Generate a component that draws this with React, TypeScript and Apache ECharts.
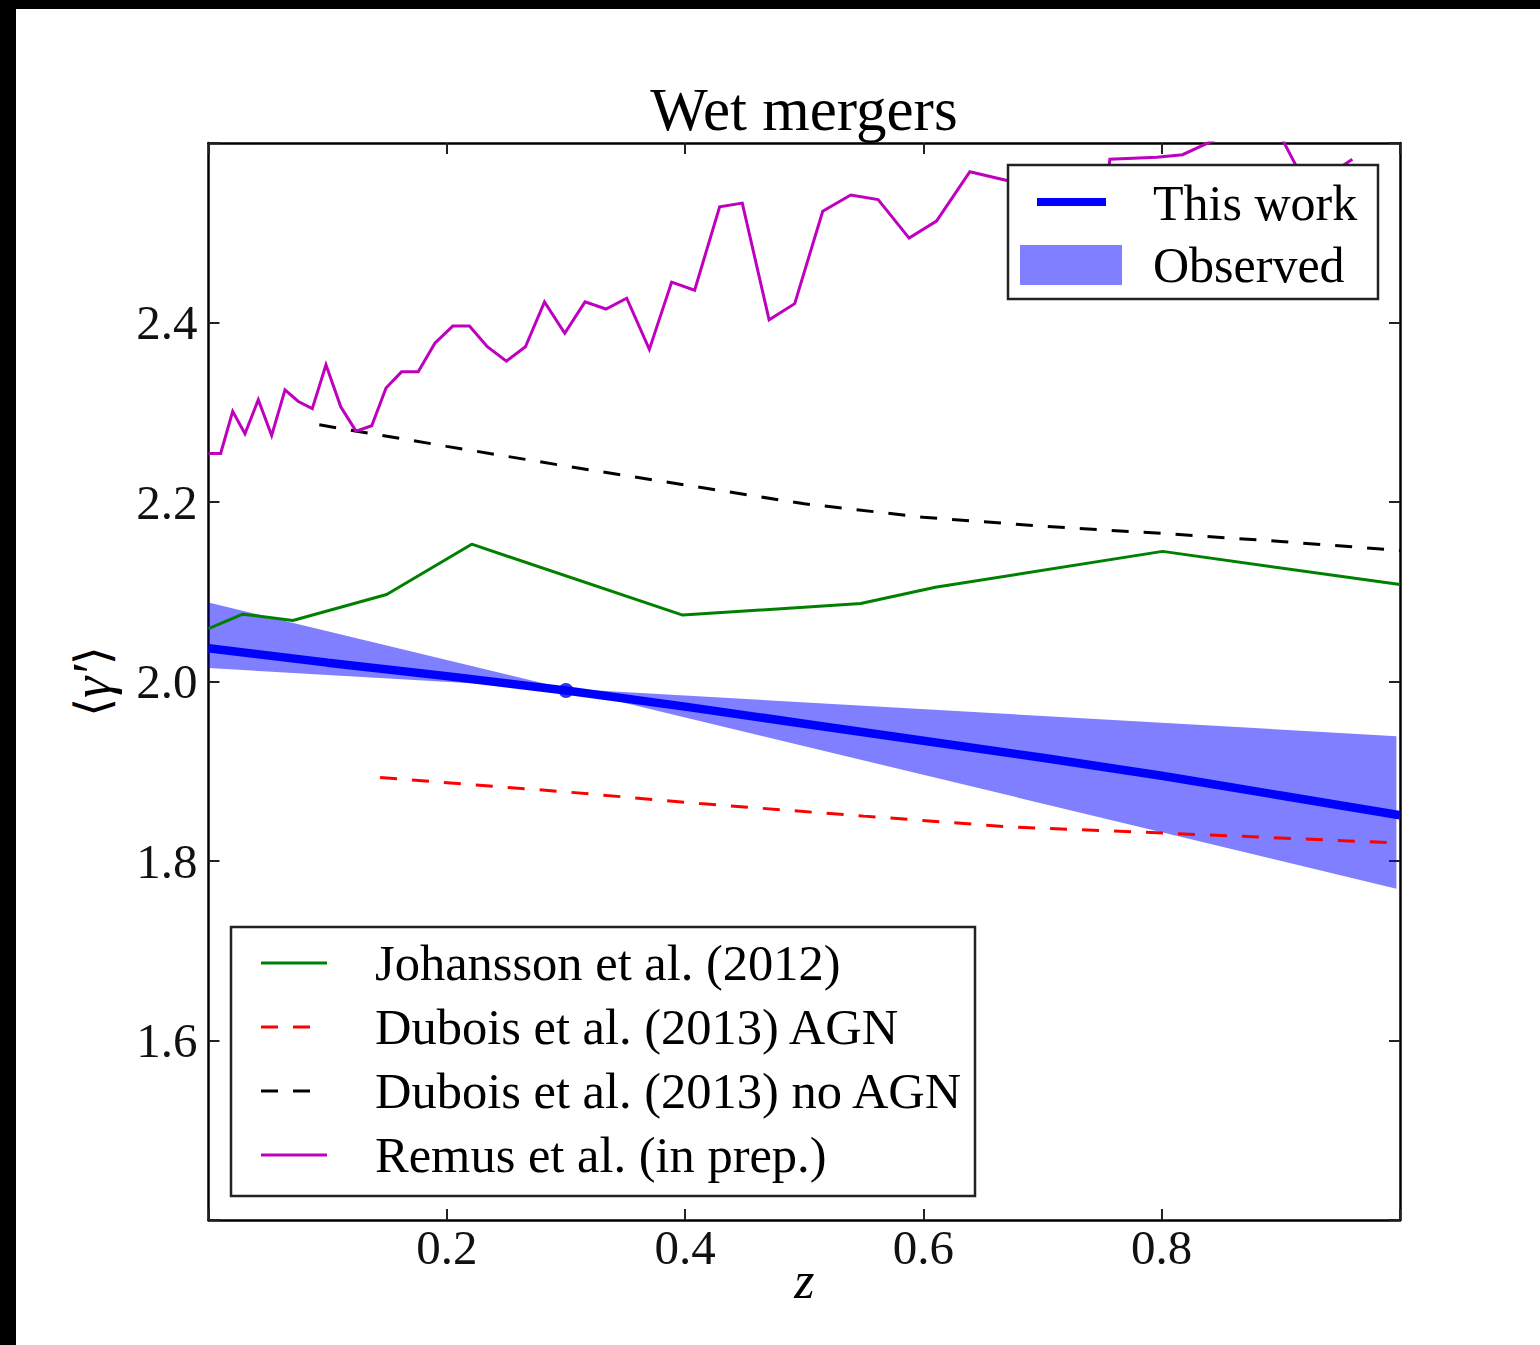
import React, { useEffect, useRef } from "react";
import * as echarts from "echarts";

// Redshift / mean slope readings per study
const johanssonZ = [0.0, 0.0287, 0.0707, 0.1495, 0.2209, 0.398, 0.5474, 0.61, 0.8007, 1.0];
const johanssonGamma = [2.059, 2.075, 2.068, 2.097, 2.153, 2.074, 2.087, 2.105, 2.145, 2.108];

const duboisAgnZ = [0.144, 0.3, 0.4125, 0.55, 0.6725, 0.804, 1.0];
const duboisAgnGamma = [1.893, 1.877, 1.864, 1.85, 1.838, 1.831, 1.82];

const duboisNoAgnZ = [0.093, 0.2, 0.3, 0.4, 0.5, 0.6, 0.7, 0.8, 0.9, 1.0];
const duboisNoAgnGamma = [2.286, 2.262, 2.24, 2.219, 2.198, 2.183, 2.173, 2.165, 2.156, 2.146];

const remusZ = [
  0.0, 0.0102, 0.0203, 0.0306, 0.0418, 0.053, 0.0642, 0.0754, 0.0871, 0.0986,
  0.111, 0.1238, 0.137, 0.149, 0.162, 0.176, 0.19, 0.205, 0.219, 0.234,
  0.25, 0.266, 0.282, 0.299, 0.316, 0.3336, 0.351, 0.37, 0.3887, 0.408,
  0.429, 0.448, 0.4705, 0.492, 0.5155, 0.539, 0.562, 0.588, 0.611, 0.639,
  0.671, 0.7, 0.725, 0.749, 0.7565, 0.796, 0.8175, 0.855, 0.895, 0.924,
  0.941, 0.96,
];
const remusGamma = [
  2.254, 2.254, 2.301, 2.276, 2.314, 2.274, 2.325, 2.312, 2.304, 2.353,
  2.306, 2.279, 2.285, 2.327, 2.345, 2.345, 2.377, 2.396, 2.396, 2.373,
  2.357, 2.373, 2.423, 2.388, 2.423, 2.415, 2.427, 2.37, 2.445, 2.436,
  2.529, 2.533, 2.403, 2.421, 2.524, 2.542, 2.537, 2.494, 2.513, 2.568,
  2.558, 2.54, 2.52, 2.5, 2.582, 2.584, 2.587, 2.61, 2.62, 2.546,
  2.565, 2.582,
];

// This work: best-fit relation and observed range
const thisWorkZ = [0.0, 0.1, 0.2, 0.3, 0.4, 0.5, 0.6, 0.7, 0.8, 0.9, 1.0];
const thisWorkGamma = [2.037, 2.021, 2.006, 1.99, 1.972, 1.953, 1.934, 1.915, 1.895, 1.873, 1.851];
const pivotZ = [0.3];
const pivotGamma = [1.99];

const bandZ = [0.0, 0.3, 0.997];
const bandUpper = [2.088, 1.992, 1.939];
const bandLower = [2.015, 1.992, 1.769];

const xMin = 0;
const xMax = 1;
const yMin = 1.4;
const yMax = 2.6;
const tickStep = 0.2;

const FONT = "'Liberation Serif', 'DejaVu Serif', serif";
const DASH = [17, 15];

const pairs = (xs: number[], ys: number[]) => xs.map((x, i) => [x, ys[i]]);

const tickLabel = (lo: number, hi: number) => (v: number) =>
  Math.abs(v - lo) < 1e-6 || Math.abs(v - hi) < 1e-6 ? "" : v.toFixed(1);

export default function App() {
  const ref = useRef<HTMLDivElement>(null);

  useEffect(() => {
    if (!ref.current) return;
    const chart = echarts.init(ref.current, null, { renderer: "svg" });

    const spine = { show: true, onZero: false, lineStyle: { color: "#000", width: 2.5 } };
    const ticks = { show: true, inside: true, length: 11, lineStyle: { color: "#222", width: 2 } };
    const labelStyle = { color: "#111", fontFamily: FONT, fontSize: 49 };

    const bottomLegendRows = [
      { name: "Johansson et al. (2012)", color: "#008000", dash: null as number[] | null, y: 963 },
      { name: "Dubois et al. (2013) AGN", color: "#ff0000", dash: DASH, y: 1027 },
      { name: "Dubois et al. (2013) no AGN", color: "#000000", dash: DASH, y: 1091 },
      { name: "Remus et al. (in prep.)", color: "#bf00bf", dash: null, y: 1155 },
    ];

    const legendText = (text: string, x: number, y: number, size: number) => ({
      type: "text",
      z: 101,
      x,
      y,
      style: {
        text,
        fill: "#000",
        fontFamily: FONT,
        fontSize: size,
        align: "left",
        verticalAlign: "middle",
        textAlign: "left",
        textVerticalAlign: "middle",
      },
    });

    const graphics: any[] = [
      // dark frame edges of the page
      { type: "rect", z: 200, shape: { x: 0, y: 0, width: 16, height: 1345 }, style: { fill: "#000" } },
      { type: "rect", z: 200, shape: { x: 0, y: 0, width: 1540, height: 9 }, style: { fill: "#000" } },
      // upper-right legend
      {
        type: "rect",
        z: 100,
        shape: { x: 1008, y: 165, width: 370, height: 134 },
        style: { fill: "#fff", stroke: "#222", lineWidth: 2.5 },
      },
      {
        type: "line",
        z: 101,
        shape: { x1: 1037, y1: 202, x2: 1106, y2: 202 },
        style: { stroke: "#0000ff", lineWidth: 8 },
      },
      legendText("This work", 1153, 203, 50),
      {
        type: "rect",
        z: 101,
        shape: { x: 1020, y: 245, width: 102, height: 40 },
        style: { fill: "rgba(0,0,255,0.5)" },
      },
      legendText("Observed", 1153, 265, 50),
      // lower-left legend
      {
        type: "rect",
        z: 100,
        shape: { x: 231, y: 927, width: 744, height: 269 },
        style: { fill: "#fff", stroke: "#222", lineWidth: 2.5 },
      },
    ];
    bottomLegendRows.forEach((row) => {
      graphics.push({
        type: "line",
        z: 101,
        shape: { x1: 261, y1: row.y, x2: row.dash ? 312 : 327, y2: row.y },
        style: { stroke: row.color, lineWidth: 3, lineDash: row.dash || undefined },
      });
      graphics.push(legendText(row.name, 375, row.y, 50.5));
    });

    const option: any = {
      animation: false,
      backgroundColor: "#fff",
      title: {
        text: "Wet mergers",
        left: 804,
        top: 79,
        padding: 0,
        textAlign: "center",
        textStyle: { fontFamily: FONT, fontSize: 61, fontWeight: "normal", color: "#000" },
      },
      grid: { left: 208.5, right: 140, top: 143, bottom: 125, containLabel: false },
      xAxis: [
        {
          type: "value",
          min: xMin,
          max: xMax,
          interval: tickStep,
          position: "bottom",
          axisLine: spine,
          axisTick: ticks,
          splitLine: { show: false },
          axisLabel: { ...labelStyle, margin: 3, formatter: tickLabel(xMin, xMax) },
          name: "z",
          nameLocation: "middle",
          nameGap: 34,
          nameMoveOverlap: false,
          nameTextStyle: { fontFamily: FONT, fontSize: 52, fontStyle: "italic", color: "#000" },
        },
        {
          type: "value",
          min: xMin,
          max: xMax,
          interval: tickStep,
          position: "top",
          axisLine: spine,
          axisTick: ticks,
          splitLine: { show: false },
          axisLabel: { show: false },
        },
      ],
      yAxis: [
        {
          type: "value",
          min: yMin,
          max: yMax,
          interval: tickStep,
          position: "left",
          axisLine: spine,
          axisTick: ticks,
          splitLine: { show: false },
          axisLabel: { ...labelStyle, margin: 11, formatter: tickLabel(yMin, yMax) },
          name: "{a|⟨}{b|γ′}{a|⟩}",
          nameLocation: "middle",
          nameRotate: 90,
          nameGap: 90,
          nameTextStyle: {
            color: "#000",
            rich: {
              a: { fontFamily: "'DejaVu Serif', serif", fontSize: 48, color: "#000" },
              b: { fontFamily: FONT, fontSize: 54, fontStyle: "italic", color: "#000" },
            },
          },
        },
        {
          type: "value",
          min: yMin,
          max: yMax,
          interval: tickStep,
          position: "right",
          axisLine: spine,
          axisTick: ticks,
          splitLine: { show: false },
          axisLabel: { show: false },
        },
      ],
      graphic: { elements: graphics },
      series: [
        {
          name: "Observed",
          type: "custom",
          z: 1,
          data: bandZ.map((z, i) => [z, bandLower[i], bandUpper[i]]),
          encode: { x: 0, y: [1, 2] },
          renderItem: (params: any, api: any) => {
            if (params.dataIndex !== 0) return { type: "group", children: [] };
            const top = bandZ.map((z, i) => api.coord([z, bandUpper[i]]));
            const bottom = bandZ.map((z, i) => api.coord([z, bandLower[i]])).reverse();
            return {
              type: "polygon",
              shape: { points: [...top, ...bottom] },
              style: { fill: "rgba(0,0,255,0.5)", stroke: "none" },
            };
          },
        },
        {
          name: "Johansson et al. (2012)",
          type: "line",
          z: 3,
          symbol: "none",
          clip: true,
          data: pairs(johanssonZ, johanssonGamma),
          lineStyle: { color: "#008000", width: 3 },
        },
        {
          name: "Dubois et al. (2013) AGN",
          type: "line",
          z: 3,
          symbol: "none",
          clip: true,
          data: pairs(duboisAgnZ, duboisAgnGamma),
          lineStyle: { color: "#ff0000", width: 3, type: DASH },
        },
        {
          name: "Dubois et al. (2013) no AGN",
          type: "line",
          z: 3,
          symbol: "none",
          clip: true,
          data: pairs(duboisNoAgnZ, duboisNoAgnGamma),
          lineStyle: { color: "#000000", width: 3, type: DASH },
        },
        {
          name: "Remus et al. (in prep.)",
          type: "line",
          z: 3,
          symbol: "none",
          clip: true,
          data: pairs(remusZ, remusGamma),
          lineStyle: { color: "#bf00bf", width: 3, join: "miter" },
        },
        {
          name: "This work",
          type: "line",
          z: 4,
          symbol: "none",
          clip: true,
          data: pairs(thisWorkZ, thisWorkGamma),
          lineStyle: { color: "#0000ff", width: 8.5 },
        },
        {
          name: "This work pivot",
          type: "scatter",
          z: 5,
          symbol: "circle",
          symbolSize: 15,
          data: pairs(pivotZ, pivotGamma),
          itemStyle: { color: "#0000ff" },
        },
      ],
    };

    chart.setOption(option);
    return () => chart.dispose();
  }, []);

  return (
    <div
      ref={ref}
      style={{ position: "absolute", left: 0, top: 0, width: 1540, height: 1345, background: "#fff" }}
    />
  );
}
